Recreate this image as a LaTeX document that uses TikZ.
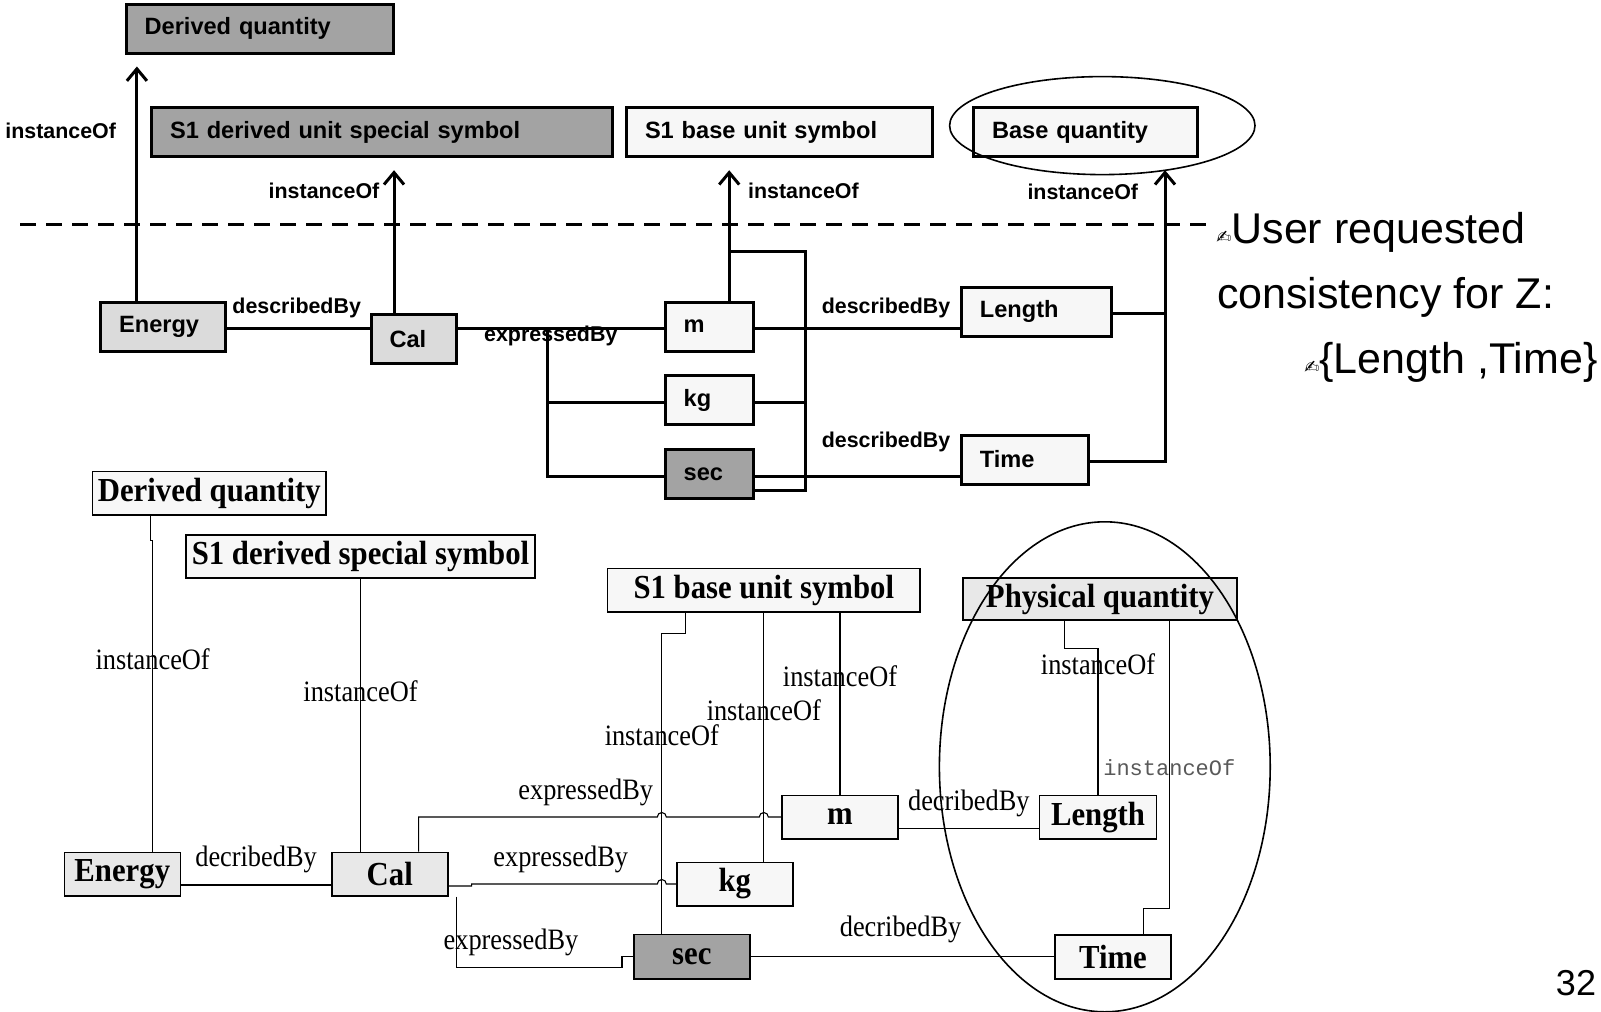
\documentclass[tikz,border=0pt]{standalone}
\usepackage{fontspec}
\setmainfont{Liberation Serif}
\setsansfont{Liberation Sans}
\setmonofont{Liberation Mono}
\newfontfamily\penfont{DejaVu Sans}
\newfontfamily\boxserif[FakeStretch=0.915]{Liberation Serif}
\newfontfamily\lblserif[FakeStretch=0.89]{Liberation Serif}
\usetikzlibrary{arrows.meta,calc}

\definecolor{darkfill}{gray}{0.64}
\definecolor{midfill}{gray}{0.86}
\definecolor{lowfill}{gray}{0.91}
\definecolor{palefill}{gray}{0.97}
\definecolor{monogray}{gray}{0.35}

\tikzset{
	topbox/.style={draw, line width=1.5pt, inner xsep=9.25pt, inner ysep=0pt, minimum height=24.5pt, align=left, font=\sffamily\bfseries\fontsize{11.8}{14}\selectfont},
	botbox/.style={draw, line width=0.8pt, inner sep=0pt, minimum width=58pt, minimum height=21.7pt, font=\boxserif\bfseries\fontsize{16.8}{18}\selectfont},
	toplbl/.style={inner sep=0pt, font=\sffamily\bfseries\fontsize{10.7}{12}\selectfont},
	botlbl/.style={inner sep=0pt, font=\lblserif\fontsize{14.8}{16}\selectfont},
	monolbl/.style={inner sep=0pt, text=monogray, font=\ttfamily\fontsize{11}{13}\selectfont},
	note/.style={inner sep=0pt, font=\sffamily\fontsize{21.5}{26}\selectfont},
	link/.style={line width=1.5pt},
	wire/.style={line width=0.55pt}
}
\newcommand{\penmark}{{\penfont\fontsize{9}{10}\selectfont ✍}}

\begin{document}
\begin{tikzpicture}[x=0.5pt, y=-0.5pt, >={Straight Barb[length=6pt,width=10pt]}]
			\useasboundingbox (0,0) rectangle (1601,1012);

			\node[topbox, fill=darkfill, text width=115.3pt] (q1) at (259.9,28.5) {Derived quantity};
			\node[topbox, fill=darkfill, text width=211.85pt] (q2) at (381.9,132.2) {S1 derived unit special symbol};
			\node[topbox, fill=palefill, text width=134.65pt] (q3) at (779.65,132.2) {S1 base unit symbol};
			\node[topbox, fill=palefill, text width=93.4pt] (q4) at (1085.4,132.2) {Base quantity};
			\node[topbox, fill=midfill, text width=43.8pt] (v1) at (162.9,326.5) {Energy};
			\node[topbox, fill=midfill, text width=24.45pt] (v2) at (414,339) {Cal};
			\node[topbox, fill=palefill, text width=25.5pt] (v3) at (709.2,326.5) {m};
			\node[topbox, fill=palefill, text width=25.5pt] (v4) at (709.2,400.3) {kg};
			\node[topbox, fill=darkfill, text width=25.5pt] (v5) at (709.2,473.8) {sec};
			\node[topbox, fill=palefill, text width=56.5pt] (v6) at (1036.4,311.5) {Length};
			\node[topbox, fill=palefill, text width=44.85pt] (v7) at (1024.7,459.5) {Time};

			\coordinate (a1) at ([xshift=-13pt]v1.north);
			\coordinate (a2) at ([xshift=-10pt]v2.north);
			\coordinate (a3) at ([xshift=10pt]v3.north);
			\coordinate (b1) at ([xshift=-58pt, yshift=-1.15pt]v3.west);
			\coordinate (b2) at ([xshift=48.2pt, yshift=24.75pt]v3.north);
			\coordinate (b3) at ([yshift=-8.1pt]b2 |- v5.east);
			\coordinate (b4) at ([xshift=39.8pt]q4.south);

			\draw[link,->,shorten >=6pt] (a1) -- (a1 |- q1.south) node[toplbl, pos=.69, left=9.7pt] {instanceOf};
			\draw[link,->,shorten >=6pt] (a2) -- (a2 |- q2.south) node[toplbl, pos=.79, left=6.6pt] {instanceOf};
			\draw[link,->,shorten >=6pt] (a3) -- (a3 |- q3.south) node[toplbl, pos=.77, right=8.7pt] {instanceOf};
			\draw[link,->,shorten >=6pt] ([yshift=-1pt]v7.east) -| (b4) node[toplbl, pos=.945, left=12.7pt] {instanceOf};
			\draw[link] ([yshift=-1pt]v6.east) -- ([yshift=-1pt]v6.east -| b4);
			\draw[link] ([yshift=-1.15pt]v1.east) -- ([yshift=-1.15pt]v1.east -| v2.west) node[toplbl, pos=.49, yshift=10.4pt] {describedBy};
			\draw[link] (b1 -| v2.east) -- (b1 -| v3.west) node[toplbl, pos=.45, yshift=-3.5pt] {expressedBy};
			\draw[link] (b1) |- ([yshift=-1.15pt]v5.west);
			\draw[link] ([yshift=-1pt]v4.west) -| (b1);
			\draw[link] (a3 |- b2) -- (b2) -- (b3) -- (b3 -| v5.east);
			\draw[link] ([yshift=-1pt]v4.east) -- ([yshift=-1pt]v4.east -| b2);
			\draw[link] ([yshift=-1.15pt]v3.east) -- ([yshift=-1.15pt]v3.east -| v6.west) node[toplbl, pos=.64, yshift=10.4pt] {describedBy};
			\draw[link] ([yshift=-1.15pt]v5.east) -- ([yshift=-1.15pt]v5.east -| v7.west) node[toplbl, pos=.64, yshift=17.2pt] {describedBy};
			\draw[link, dash pattern=on 8pt off 5pt] (20.4,224.6) -- (1213,224.6);
			\draw[line width=0.8pt] (1102.3,125.6) ellipse [x radius=76.35pt, y radius=24.5pt];

			\node[note, anchor=base west] (t1) at (1216,243.3) {\penmark User requested};
			\node[note, anchor=base west] (t2) at (1216.7,308.3) {consistency for Z:};
			\node[note, anchor=base east] (t3) at (1598,373.3) {\penmark\{Length ,Time\}};

			\node[botbox, fill=palefill, minimum width=116.7pt] (p1) at (209.3,493.2) {Derived quantity};
			\node[botbox, fill=palefill, minimum width=174.7pt] (p2) at (360.5,556.5) {S1 derived special symbol};
			\node[botbox, fill=palefill, minimum width=156.2pt] (p3) at (763.8,590.2) {S1 base unit symbol};
			\node[botbox, fill=lowfill, minimum width=137.2pt, minimum height=21.2pt] (p4) at (1100,599) {Physical quantity};
			\node[botbox, fill=lowfill] (w1) at (122.3,874) {Energy};
			\node[botbox, fill=lowfill] (w2) at (389.8,874) {Cal};
			\node[botbox, fill=palefill] (w3) at (840,817) {m};
			\node[botbox, fill=palefill] (w4) at (734.8,884) {kg};
			\node[botbox, fill=darkfill, minimum height=22.2pt] (w5) at (691.8,956.5) {sec};
			\node[botbox, fill=palefill, minimum width=58.4pt] (w6) at (1098,817.3) {Length};
			\node[botbox, fill=palefill, minimum height=22.2pt] (w7) at (1113,957) {Time};

			\coordinate (k1) at ([xshift=-15pt]w5.north);
			\coordinate (k2) at (p3.south |- w4.north);

			\draw[wire] ([xshift=-29.2pt]p1.south) -- ++(0,25) -| ([xshift=15.2pt]w1.north) node[botlbl, pos=.69] {instanceOf};
			\draw[wire] (p2.south) -- (p2.south |- w2.north) node[botlbl, pos=.41] {instanceOf};
			\draw[wire] ([yshift=-5.5pt]w1.east) -- ([yshift=-5.5pt]w2.west) node[botlbl, pos=.5, yshift=12.7pt] {decribedBy};
			\draw[wire] ([xshift=14.4pt]w2.north) |- ($(k1 |- w3.west)+(-4.5,0)$) node[botlbl, pos=.85, yshift=12.3pt] {expressedBy}
				arc[start angle=180, end angle=0, radius=2.25pt] -- ($(k2 |- w3.west)+(-4.5,0)$)
				arc[start angle=180, end angle=0, radius=2.25pt] -- (w3.west);
			\draw[wire] ([yshift=-6pt]w2.east) -- ++(23,0) |- ($(k1 |- w4.west)+(-4.5,0)$) node[botlbl, pos=.74, yshift=12.5pt] {expressedBy}
				arc[start angle=180, end angle=0, radius=2.25pt] -- (w4.west);
			\draw[wire] ([xshift=33.25pt]w2.south) -- ++(0,71) -- ++(165.7,0) node[botlbl, pos=.33, yshift=12.7pt] {expressedBy} |- (w5.west);
			\draw[wire] ([xshift=-39pt]p3.south) -- ++(0,20.6) -| (k1) node[botlbl, pos=.67] {instanceOf};
			\draw[wire] (p3.south) -- (k2) node[botlbl, pos=.39] {instanceOf};
			\draw[wire] (w3.north |- p3.south) -- (w3.north) node[botlbl, pos=.35] {instanceOf};
			\draw[wire] ([yshift=-5.65pt]w3.east) -- ([yshift=-5.65pt]w3.east -| w6.west) node[botlbl, pos=.5, yshift=12.65pt] {decribedBy};
			\draw[wire] (w5.east) -- (w5.east -| w7.west) node[botlbl, pos=.494, yshift=13.3pt] {decribedBy};
			\draw[wire] ([xshift=-17.8pt]p4.south) -- ++(0,27.2) -| (w6.north) node[botlbl, pos=.553] {instanceOf};
			\draw[wire] ([xshift=34.65pt]p4.south) -- ++(0,287.5) node[monolbl, pos=.51] {instanceOf} -| ([xshift=15.15pt]w7.north);
			\draw[line width=0.8pt] (1104.8,766.8) ellipse [x radius=82.7pt, y radius=122.5pt];

			\node[inner sep=0pt, font=\sffamily\fontsize{18}{20}\selectfont] (pg) at (1576,983.3) {32};
		\end{tikzpicture}
\end{document}
